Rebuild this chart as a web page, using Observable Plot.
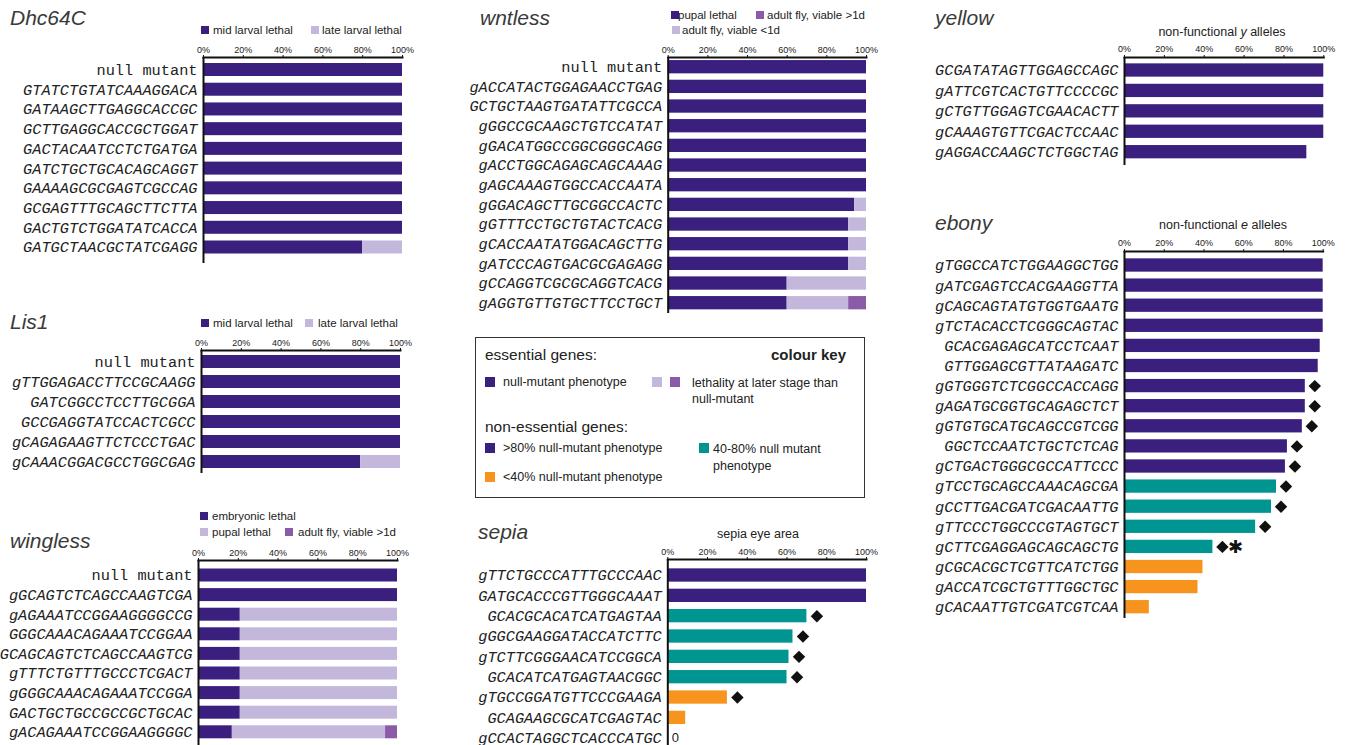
<!DOCTYPE html>
<html><head><meta charset="utf-8">
<script src="https://cdn.jsdelivr.net/npm/d3@7"></script>
<script src="https://cdn.jsdelivr.net/npm/@observablehq/plot@0.6"></script>
<style>
body{margin:0;background:#fff;}
#page{position:relative;width:1349px;height:745px;overflow:hidden;font-family:"Liberation Sans",Arial,sans-serif;color:#222;background:#fff;}
.t{position:absolute;white-space:nowrap;}
.title{font-style:italic;font-size:21px;line-height:24px;color:#3a3a3a;}
.lg{font-size:11.5px;line-height:12px;color:#222;}
.sw{position:absolute;}
</style></head><body><div id="page"></div>
<script>
// ---------- data ----------
const colDark = "#3b1f7f", colLight = "#c4b7dc", colMid = "#8c5ba7", colTeal = "#009591", colOrange = "#f7941e";
const pctTicks = [0, 20, 40, 60, 80, 100];

const dhcRows = ["null mutant","GTATCTGTATCAAAGGACA","GATAAGCTTGAGGCACCGC","GCTTGAGGCACCGCTGGAT","GACTACAATCCTCTGATGA","GATCTGCTGCACAGCAGGT","GAAAAGCGCGAGTCGCCAG","GCGAGTTTGCAGCTTCTTA","GACTGTCTGGATATCACCA","GATGCTAACGCTATCGAGG"];
const dhcMid  = [100,100,100,100,100,100,100,100,100,80];
const dhcLate = [0,0,0,0,0,0,0,0,0,20];

const lisRows = ["null mutant","gTTGGAGACCTTCCGCAAGG","GATCGGCCTCCTTGCGGA","GCCGAGGTATCCACTCGCC","gCAGAGAAGTTCTCCCTGAC","gCAAACGGACGCCTGGCGAG"];
const lisMid  = [100,100,100,100,100,80];
const lisLate = [0,0,0,0,0,20];

const wgRows = ["null mutant","gGCAGTCTCAGCCAAGTCGA","gAGAAATCCGGAAGGGGCCG","GGGCAAACAGAAATCCGGAA","GCAGCAGTCTCAGCCAAGTCG","gTTTCTGTTTGCCCTCGACT","gGGGCAAACAGAAATCCGGA","GACTGCTGCCGCCGCTGCAC","gACAGAAATCCGGAAGGGGC"];
const wgEmbryonic = [100,100,21,21,21,21,21,21,17];
const wgPupal     = [0,0,79,79,79,79,79,79,77];
const wgAdult     = [0,0,0,0,0,0,0,0,6];

const wlRows = ["null mutant","gACCATACTGGAGAACCTGAG","GCTGCTAAGTGATATTCGCCA","gGGCCGCAAGCTGTCCATAT","gGACATGGCCGGCGGGCAGG","gACCTGGCAGAGCAGCAAAG","gAGCAAAGTGGCCACCAATA","gGGACAGCTTGCGGCCACTC","gGTTTCCTGCTGTACTCACG","gCACCAATATGGACAGCTTG","gATCCCAGTGACGCGAGAGG","gCCAGGTCGCGCAGGTCACG","gAGGTGTTGTGCTTCCTGCT"];
const wlPupal   = [100,100,100,100,100,100,100,94,91,91,91,60,60];
const wlLess1d  = [0,0,0,0,0,0,0,6,9,9,9,40,31];
const wlMore1d  = [0,0,0,0,0,0,0,0,0,0,0,0,9];

const sepRows = ["gTTCTGCCCATTTGCCCAAC","GATGCACCCGTTGGGCAAAT","GCACGCACATCATGAGTAA","gGGCGAAGGATACCATCTTC","gTCTTCGGGAACATCCGGCA","GCACATCATGAGTAACGGC","gTGCCGGATGTTCCCGAAGA","GCAGAAGCGCATCGAGTAC","gCCACTAGGCTCACCCATGC"];
const sepValues  = [100,100,70,63,61,60,30,9,0];
const sepClass   = [">80",">80","40-80","40-80","40-80","40-80","<40","<40","<40"];
const sepDiamond = [false,false,true,true,true,true,true,false,false];

const yRows = ["GCGATATAGTTGGAGCCAGC","gATTCGTCACTGTTCCCCGC","gCTGTTGGAGTCGAACACTT","gCAAAGTGTTCGACTCCAAC","gAGGACCAAGCTCTGGCTAG"];
const yValues = [100,100,100,100,91.5];
const yClass  = [">80",">80",">80",">80",">80"];

const eRows = ["gTGGCCATCTGGAAGGCTGG","gATCGAGTCCACGAAGGTTA","gCAGCAGTATGTGGTGAATG","gTCTACACCTCGGGCAGTAC","GCACGAGAGCATCCTCAAT","GTTGGAGCGTTATAAGATC","gGTGGGTCTCGGCCACCAGG","gAGATGCGGTGCAGAGCTCT","gGTGTGCATGCAGCCGTCGG","GGCTCCAATCTGCTCTCAG","gCTGACTGGGCGCCATTCCC","gTCCTGCAGCCAAACAGCGA","gCCTTGACGATCGACAATTG","gTTCCCTGGCCCGTAGTGCT","gCTTCGAGGAGCAGCAGCTG","gCGCACGCTCGTTCATCTGG","gACCATCGCTGTTTGGCTGC","gCACAATTGTCGATCGTCAA"];
const eValues  = [100,100,100,100,98.5,97.5,91,91,89.5,82,81,76.5,74,66,44.5,39.5,37,12.5];
const eClass   = [">80",">80",">80",">80",">80",">80",">80",">80",">80",">80",">80","40-80","40-80","40-80","40-80","<40","<40","<40"];
const eDiamond = [false,false,false,false,false,false,true,true,true,true,true,true,true,true,true,false,false,false];
const eAsterisk = [false,false,false,false,false,false,false,false,false,false,false,false,false,false,true,false,false,false];

const nonEssCats = [">80","40-80","<40"];
const nonEssCols = [colDark, colTeal, colOrange];

// ---------- helpers ----------
const page = document.getElementById("page");
function txt(html, x, y, cls, extra) {
  const d = document.createElement("div");
  d.className = "t " + (cls || "");
  d.innerHTML = html;
  d.style.left = x + "px";
  d.style.top = y + "px";
  if (extra) Object.assign(d.style, extra);
  page.appendChild(d);
  return d;
}
function title(s, x, cy) { txt(s, x, cy - 12, "title"); }
function swatch(color, x, cy, size) {
  const d = document.createElement("div");
  d.className = "sw";
  d.style.left = x + "px"; d.style.top = (cy - size / 2) + "px";
  d.style.width = size + "px"; d.style.height = size + "px";
  d.style.background = color;
  page.appendChild(d);
}
function legendItem(color, label, x, tx, cy) {
  swatch(color, x, cy, 8);
  txt(label, tx, cy - 6.5, "lg");
}
function stackData(rows, cats, series) {
  const out = [];
  rows.forEach((r, i) => cats.forEach((c, j) => out.push({row: r, cat: c, v: series[j][i]})));
  return out;
}

function panel(o) {
  const n = o.rows.length;
  const step = (o.lastC - o.firstC) / (n - 1);
  const p = 1 - o.barH / step;
  const range = o.bottom - o.axisY;
  const po = Math.max(0, (range / step - n + p) / 2);
  const extra = range - step * (n - p);
  const align = Math.min(1, Math.max(0, (o.firstC - o.barH / 2 - o.axisY) / extra));
  const top = o.axisY - 30;
  const mr = 30;
  const seqRows = o.rows.filter(r => r !== "null mutant");
  const nullRows = o.rows.filter(r => r === "null mutant");
  const marks = [
    Plot.barX(o.data, {x: "v", y: "row", fill: "cat"}),
    ...(o.extraMarks || []),
    Plot.ruleX([0], {stroke: "#111", strokeWidth: 2}),
    Plot.frame({anchor: "top", stroke: "#111", strokeWidth: 2}),
    Plot.axisX({anchor: "top", ticks: pctTicks, tickFormat: d => d + "%", tickSize: 3, tickPadding: 2, fontSize: 9, label: null, stroke: "#111"}),
    Plot.axisY(seqRows, {tickSize: 0, tickPadding: 6, fontFamily: "Liberation Mono", fontStyle: "italic", fontSize: 15.3, label: null}),
  ];
  if (nullRows.length) marks.push(Plot.axisY(nullRows, {tickSize: 0, tickPadding: 6, fontFamily: "Liberation Mono", fontSize: 15.3, label: null}));
  const chart = Plot.plot({
    width: o.x100 - o.left + mr,
    height: o.bottom - top,
    marginLeft: o.x0 - o.left, marginRight: mr, marginTop: 30, marginBottom: 0,
    x: {domain: [0, 100]},
    y: {domain: o.rows, paddingInner: p, paddingOuter: po, align, round: false},
    color: {domain: o.cats, range: o.colors},
    style: {background: "transparent", overflow: "visible", fontFamily: "Liberation Sans", color: "#222"},
    marks
  });
  chart.style.position = "absolute";
  chart.style.left = o.left + "px";
  chart.style.top = top + "px";
  chart.style.maxWidth = "none";
  page.appendChild(chart);
}

function simpleData(rows, values, cls) {
  return rows.map((r, i) => ({row: r, v: values[i], cat: cls[i]}));
}

// ---------- Dhc64C ----------
title("Dhc64C", 10, 18);
legendItem(colDark, "mid larval lethal", 201, 213, 30);
legendItem(colLight, "late larval lethal", 311, 322, 30);
panel({left: 0, x0: 203, x100: 402, axisY: 57, firstC: 69.5, lastC: 247, bottom: 263, barH: 13,
  rows: dhcRows, cats: ["mid","late"], colors: [colDark, colLight],
  data: stackData(dhcRows, ["mid","late"], [dhcMid, dhcLate])});

// ---------- Lis1 ----------
title("Lis1", 10, 322);
legendItem(colDark, "mid larval lethal", 201, 213, 323);
legendItem(colLight, "late larval lethal", 305, 318, 323);
panel({left: 0, x0: 201, x100: 400, axisY: 350, firstC: 361.5, lastC: 461.5, bottom: 473, barH: 13,
  rows: lisRows, cats: ["mid","late"], colors: [colDark, colLight],
  data: stackData(lisRows, ["mid","late"], [lisMid, lisLate])});

// ---------- wingless ----------
title("wingless", 10, 541);
legendItem(colDark, "embryonic lethal", 200, 212, 516);
legendItem(colLight, "pupal lethal", 200, 212, 532);
legendItem(colMid, "adult fly, viable &gt;1d", 285, 298, 532);
panel({left: 0, x0: 198, x100: 397, axisY: 560, firstC: 575, lastC: 731.8, bottom: 748, barH: 13,
  rows: wgRows, cats: ["emb","pup","adult"], colors: [colDark, colLight, colMid],
  data: stackData(wgRows, ["emb","pup","adult"], [wgEmbryonic, wgPupal, wgAdult])});

// ---------- wntless ----------
title("wntless", 480, 18);
legendItem(colDark, "pupal lethal", 671, 678, 15);
legendItem(colMid, "adult fly, viable &gt;1d", 756, 767, 15);
legendItem(colLight, "adult fly, viable &lt;1d", 672, 682, 30);
panel({left: 460, x0: 667.7, x100: 866, axisY: 57, firstC: 66.7, lastC: 302.7, bottom: 313, barH: 13.3,
  rows: wlRows, cats: ["pupal","lt1","gt1"], colors: [colDark, colLight, colMid],
  data: stackData(wlRows, ["pupal","lt1","gt1"], [wlPupal, wlLess1d, wlMore1d])});

// ---------- colour key ----------
const box = document.createElement("div");
Object.assign(box.style, {position: "absolute", left: "475px", top: "337px", width: "388px", height: "159px", border: "1.5px solid #333"});
page.appendChild(box);
txt("essential genes:", 485, 346, "", {fontSize: "15.5px", lineHeight: "18px"});
txt("colour key", 771, 346, "", {fontSize: "15px", lineHeight: "18px", fontWeight: "bold"});
swatch(colDark, 485, 382, 10);
txt("null-mutant phenotype", 503, 374.5, "", {fontSize: "12.5px", lineHeight: "15px"});
swatch(colLight, 652, 382, 10);
swatch(colMid, 670, 382, 10);
txt("lethality at later stage than<br>null-mutant", 692, 374.5, "", {fontSize: "12.5px", lineHeight: "16px"});
txt("non-essential genes:", 485, 418, "", {fontSize: "15.5px", lineHeight: "18px"});
swatch(colDark, 485, 448, 10);
txt("&gt;80% null-mutant phenotype", 503, 440.5, "", {fontSize: "12.5px", lineHeight: "15px"});
swatch(colTeal, 699, 448, 10);
txt("40-80% null mutant<br>phenotype", 713, 440.5, "", {fontSize: "12.5px", lineHeight: "17px"});
swatch(colOrange, 485, 477, 10);
txt("&lt;40% null-mutant phenotype", 503, 469.5, "", {fontSize: "12.5px", lineHeight: "15px"});

// ---------- sepia ----------
title("sepia", 478, 532);
txt("sepia eye area", 758, 527, "", {fontSize: "12.5px", lineHeight: "15px", transform: "translateX(-50%)"});
const sepData = simpleData(sepRows, sepValues, sepClass);
panel({left: 460, x0: 667.3, x100: 866, axisY: 559, firstC: 575, lastC: 737.7, bottom: 748, barH: 13.3,
  rows: sepRows, cats: nonEssCats, colors: nonEssCols, data: sepData,
  extraMarks: [
    Plot.dot(sepData.filter((d, i) => sepDiamond[i]), {x: "v", y: "row", symbol: "diamond2", r: 5.6, fill: "#111", stroke: "none", dx: 10}),
    Plot.text(sepData.filter(d => d.v === 0), {x: "v", y: "row", text: d => String(d.v), dx: 4, textAnchor: "start", fontSize: 13})
  ]});

// ---------- yellow ----------
title("yellow", 935, 18);
txt("non-functional <i>y</i> alleles", 1222, 24.5, "", {fontSize: "12.5px", lineHeight: "15px", transform: "translateX(-50%)"});
panel({left: 920, x0: 1124, x100: 1323.3, axisY: 57, firstC: 70, lastC: 151.7, bottom: 165, barH: 13.3,
  rows: yRows, cats: nonEssCats, colors: nonEssCols, data: simpleData(yRows, yValues, yClass)});

// ---------- ebony ----------
title("ebony", 935, 223);
txt("non-functional <i>e</i> alleles", 1223, 217.5, "", {fontSize: "12.5px", lineHeight: "15px", transform: "translateX(-50%)"});
const eData = simpleData(eRows, eValues, eClass);
panel({left: 920, x0: 1124, x100: 1322.7, axisY: 251, firstC: 265, lastC: 606.7, bottom: 618, barH: 13.3,
  rows: eRows, cats: nonEssCats, colors: nonEssCols, data: eData,
  extraMarks: [
    Plot.dot(eData.filter((d, i) => eDiamond[i]), {x: "v", y: "row", symbol: "diamond2", r: 5.6, fill: "#111", stroke: "none", dx: 9.5}),
    Plot.text(eData.filter((d, i) => eAsterisk[i]), {x: "v", y: "row", text: () => "✱", dx: 23, fontSize: 18, fill: "#111"})
  ]});
</script></body></html>
